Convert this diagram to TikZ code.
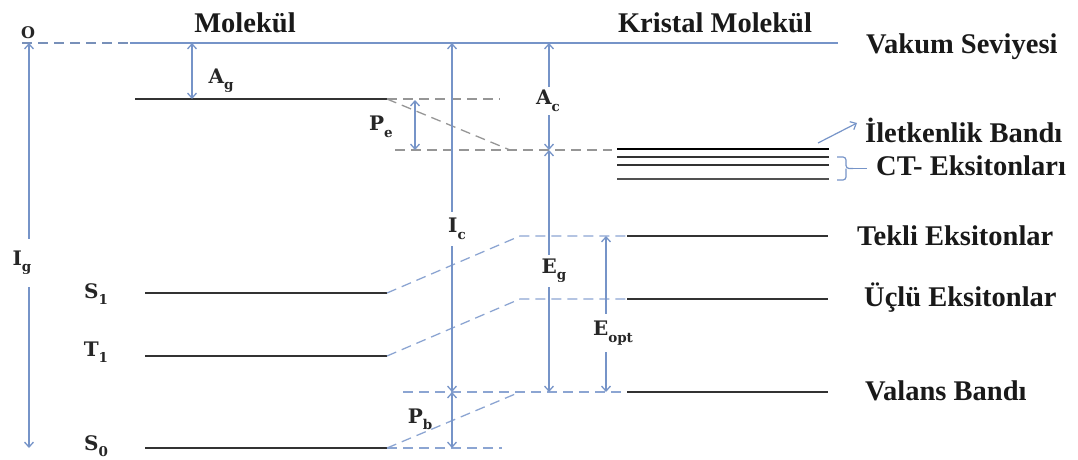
\documentclass[tikz,border=0pt]{standalone}
\usepackage{fontspec}
\setmainfont{Liberation Serif}
\newfontfamily\labfont{DejaVu Serif}
\usetikzlibrary{arrows.meta}
\definecolor{lineblue}{RGB}{118,148,200}
\definecolor{dashgray}{RGB}{150,150,150}
\definecolor{dashblue}{RGB}{140,165,210}
\definecolor{levelblack}{RGB}{50,50,50}
\newcommand{\qsub}[2]{#1\raisebox{-0.32em}{\fontsize{13.5}{14}\selectfont #2}}
\begin{document}
\begin{tikzpicture}[x=1pt,y=-1pt,
  level/.style={draw=levelblack,line width=1.6pt},
  band/.style={draw=levelblack,line width=1.4pt},
  guide/.style={draw=dashgray,line width=1.3pt,dash pattern=on 10pt off 6pt},
  guideb/.style={draw=dashblue,line width=1.3pt,dash pattern=on 10pt off 6pt},
  measure/.style={draw=lineblue,line width=1.3pt,{Straight Barb[length=5pt,width=9pt]}-{Straight Barb[length=5pt,width=9pt]}},
  title/.style={font=\fontsize{28.5}{31}\selectfont\bfseries,inner sep=0pt,text=black!90},
  qty/.style={font=\labfont\bfseries\fontsize{20}{22}\selectfont,inner sep=1pt,text=black!85},
  gap/.style={qty,fill=white,inner ysep=4pt}]
\useasboundingbox (0,0) rectangle (1078,460);

% coordinates
\coordinate (vac0) at (22,43); \coordinate (vac1) at (130,43); \coordinate (vac2) at (838,43);
\coordinate (igt) at (29,43); \coordinate (igb) at (29,448);
\coordinate (lumoL) at (135,99); \coordinate (lumoR) at (387,99); \coordinate (lumoD) at (500,99);
\coordinate (peA) at (395,150); \coordinate (peM) at (510,150); \coordinate (peB) at (612,150);
\coordinate (s1L) at (145,293); \coordinate (s1R) at (387,293);
\coordinate (t1L) at (145,356); \coordinate (t1R) at (387,356);
\coordinate (s0L) at (145,448); \coordinate (s0R) at (387,448); \coordinate (s0D) at (502,448);
\coordinate (tekL) at (520,236); \coordinate (tekA) at (627,236); \coordinate (tekB) at (828,236);
\coordinate (uclL) at (520,299); \coordinate (uclA) at (627,299); \coordinate (uclB) at (828,299);
\coordinate (valL) at (403,392); \coordinate (valK) at (520,392); \coordinate (valA) at (627,392); \coordinate (valB) at (828,392);
\coordinate (cb1L) at (617,149); \coordinate (cb1R) at (829,149);
\coordinate (cb2L) at (617,157); \coordinate (cb2R) at (829,157);
\coordinate (cb3L) at (617,165); \coordinate (cb3R) at (829,165);
\coordinate (cb4L) at (617,179); \coordinate (cb4R) at (829,179);
\coordinate (brT) at (837,157); \coordinate (brTc) at (846,157);
\coordinate (brB) at (837,180); \coordinate (brBc) at (846,180);
\coordinate (brMc) at (846,168.5); \coordinate (brM) at (853,168.5); \coordinate (brE) at (867,168.5);
\coordinate (arA) at (818,143); \coordinate (arB) at (857,123);

% vacuum level
\draw[draw=lineblue!80!gray,line width=1.3pt,dash pattern=on 10pt off 6pt] (vac0) -- (vac1);
\draw[draw=lineblue,line width=1.6pt] (vac1) -- (vac2);

% molecular levels
\draw[level] (lumoL) -- (lumoR);
\draw[level] (s1L) -- (s1R);
\draw[level] (t1L) -- (t1R);
\draw[level] (s0L) -- (s0R);

% crystal levels
\draw[level] (tekA) -- (tekB);
\draw[level] (uclA) -- (uclB);
\draw[level] (valA) -- (valB);
\draw[draw=black,line width=2.6pt] (cb1L) -- (cb1R);
\draw[band] (cb2L) -- (cb2R);
\draw[band] (cb3L) -- (cb3R);
\draw[band,draw=levelblack!85] (cb4L) -- (cb4R);

% guide dashes
\draw[guide] (lumoR) -- (lumoD);
\draw[guide] (lumoR) -- (peM);
\draw[guide] (peA) -- (peB);
\draw[guideb] (s1R) -- (tekL) -- (tekA);
\draw[guideb] (t1R) -- (uclL) -- (uclA);
\draw[guideb] (valL) -- (valA);
\draw[guideb] (s0R) -- (valK);
\draw[guideb] (s0R) -- (s0D);

% measurement arrows
\draw[measure] (igt) -- (igb);
\draw[measure] (192,43) coordinate (agT) -- (192,99) coordinate (agB);
\draw[measure] (415,100) coordinate (peT) -- (415,150) coordinate (peBt);
\draw[measure] (452,43) coordinate (icT) -- (452,392) coordinate (icB);
\draw[measure] (icB) -- (452,448) coordinate (pbB);
\draw[measure] (549,43) coordinate (acT) -- (549,150) coordinate (acB);
\draw[measure] (acB) -- (549,392) coordinate (egB);
\draw[measure] (606,236) coordinate (eoT) -- (606,392) coordinate (eoB);

% bracket and pointer
\draw[draw=lineblue,line width=1.2pt,rounded corners=3pt] (brT) -- (brTc) -- (brMc) -- (brM);
\draw[draw=lineblue,line width=1.2pt,rounded corners=3pt] (brB) -- (brBc) -- (brMc);
\draw[draw=lineblue,line width=1.2pt] (brM) -- (brE);
\draw[draw=lineblue,line width=1.2pt,-{Straight Barb[length=5pt,width=9pt]}] (arA) -- (arB);

% quantity labels
\node[qty,font=\labfont\bfseries\fontsize{16}{17}\selectfont] (o) at (28,33) {O};
\node[gap,inner ysep=12pt] (ig) at (22,263) {\qsub{I}{g}};
\node[qty] (ag) at (221,81) {\qsub{A}{g}};
\node[qty] (pe) at (381,127) {\qsub{P}{e}};
\node[gap,inner ysep=6pt] (ic) at (457,229) {\qsub{I}{c}};
\node[gap,inner ysep=3pt] (ac) at (548,101) {\qsub{A}{c}};
\node[gap,inner ysep=4pt] (eg) at (554,271) {\qsub{E}{g}};
\node[gap,inner ysep=7pt] (eo) at (613,333) {\qsub{E}{opt}};
\node[qty] (pb) at (420,419) {\qsub{P}{b}};
\node[qty] (s1) at (96,294) {\qsub{S}{1}};
\node[qty] (t1) at (96,352) {\qsub{T}{1}};
\node[qty] (s0) at (96,446) {\qsub{S}{0}};

% titles
\node[title] (mol) at (245,23) {Molekül};
\node[title] (kmol) at (715,23) {Kristal Molekül};
\node[title,anchor=west] (vak) at (866,47) {Vakum Seviyesi};
\node[title,anchor=west] (ilet) at (865,130) {İletkenlik Bandı};
\node[title,anchor=west] (ct) at (876,166) {CT- Eksitonları};
\node[title,anchor=west] (tek) at (857,236) {Tekli Eksitonlar};
\node[title,anchor=west] (ucl) at (864,298) {Üçlü Eksitonlar};
\node[title,anchor=west] (val) at (865,391) {Valans Bandı};
\end{tikzpicture}
\end{document}
